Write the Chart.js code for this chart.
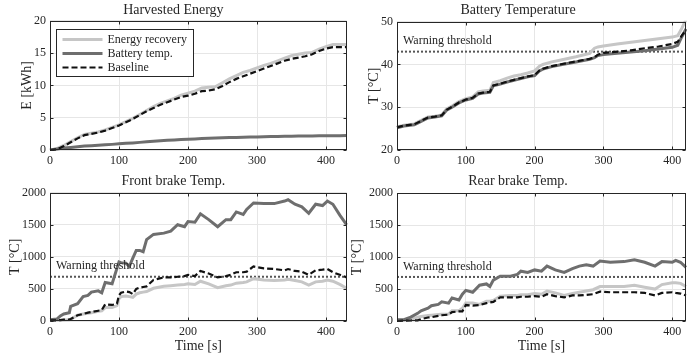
<!DOCTYPE html>
<html>
<head>
<meta charset="utf-8">
<script src="https://cdn.jsdelivr.net/npm/chart.js@4.4.1/dist/chart.umd.min.js"></script>
<style>
  body { margin: 0; background: #fff; }
  #wrap { position: relative; width: 687px; height: 356px; }
  canvas { position: absolute; }
</style>
</head>
<body>
<div id="wrap">
  <canvas id="energy" width="350" height="170" style="left:0;top:0"></canvas>
  <canvas id="battery" width="337" height="170" style="left:350px;top:0"></canvas>
  <canvas id="front" width="350" height="186" style="left:0;top:170px"></canvas>
  <canvas id="rear" width="337" height="186" style="left:350px;top:170px"></canvas>
</div>
<script>
// Harvested energy [kWh]
const energyTime = [0,10,20,30,40,50,60,70,80,90,100,110,120,130,140,150,160,170,180,190,200,210,220,230,240,250,260,270,280,290,300,310,320,330,340,350,360,370,380,390,400,410,420,430];
const energyRecovery = [0,0.2,0.7,1.3,1.9,2.4,2.6,2.8,3.1,3.5,3.9,4.4,4.9,5.5,6.1,6.7,7.2,7.6,8.0,8.5,8.8,9.1,9.6,9.7,9.8,10.4,11.0,11.5,12.0,12.3,12.7,13.1,13.4,13.8,14.2,14.6,14.8,15.0,15.1,15.6,16.0,16.3,16.3,16.3];
const energyBattery = [0,0.15,0.3,0.4,0.5,0.6,0.65,0.72,0.8,0.87,0.95,1.03,1.1,1.18,1.27,1.35,1.42,1.5,1.56,1.62,1.68,1.72,1.76,1.8,1.84,1.88,1.92,1.95,1.98,2.0,2.02,2.05,2.07,2.09,2.11,2.13,2.15,2.16,2.18,2.19,2.2,2.21,2.22,2.23];
const energyBaseline = [0,0.1,0.6,1.2,1.8,2.3,2.5,2.7,3.0,3.4,3.8,4.3,4.8,5.4,6.0,6.5,7.0,7.4,7.8,8.2,8.4,8.7,9.1,9.2,9.4,9.9,10.5,11.0,11.4,11.8,12.2,12.6,13.0,13.4,13.8,14.1,14.3,14.5,14.8,15.3,15.7,15.9,15.9,15.9];

// Battery temperature [°C]
const batteryTime = [0,10,25,30,45,55,65,72,80,90,100,110,118,125,135,140,150,160,170,180,190,200,207,212,225,240,260,280,287,292,300,320,340,360,380,400,408,414,420];
const batteryRecovery = [25.4,25.8,26.1,26.5,27.7,27.9,28.2,29.6,30.3,31.3,32.0,32.4,33.6,33.8,34.0,35.8,36.2,36.8,37.3,37.6,38.0,38.5,39.6,40.0,40.6,41.1,41.8,42.6,43.8,44.1,44.3,44.8,45.2,45.6,46.0,46.4,46.7,48.5,50.5];
const batteryBattery = [25.2,25.6,25.9,26.3,27.5,27.7,28.0,29.3,30.0,31.0,31.7,32.1,33.1,33.3,33.5,35.0,35.4,35.9,36.3,36.7,37.1,37.4,38.5,38.9,39.5,40.0,40.6,41.2,41.6,42.1,42.3,42.6,42.9,43.2,43.6,44.0,44.5,46.5,48.3];
const batteryBaseline = [25.3,25.7,26.0,26.4,27.6,27.8,28.1,29.4,30.1,31.1,31.8,32.2,33.2,33.4,33.6,35.1,35.5,36.0,36.4,36.8,37.2,37.5,38.6,39.0,39.6,40.1,40.7,41.3,41.7,42.3,42.7,43.0,43.3,43.8,44.2,44.8,45.3,46.8,48.0];
const batteryWarning = 43;

// Front brake temperature [°C]
const frontTime = [0,10,15,20,28,30,40,48,55,60,70,75,80,90,97,100,103,110,115,120,125,130,135,140,150,165,175,185,195,200,210,218,230,243,255,262,270,280,285,295,310,325,340,345,355,365,375,385,395,402,410,420,430];
const frontRecovery = [10,10,12,15,20,25,90,110,120,130,150,160,210,210,240,350,380,390,380,370,420,440,450,460,510,540,550,560,570,580,570,620,580,520,550,560,590,600,610,660,640,630,640,650,630,610,560,610,620,640,620,570,510];
const frontBattery = [20,30,80,110,130,230,270,380,400,450,470,440,600,580,820,920,910,900,850,980,1100,1100,1080,1270,1350,1370,1400,1500,1470,1550,1540,1670,1580,1470,1580,1580,1700,1660,1740,1840,1830,1830,1870,1890,1820,1780,1680,1820,1800,1870,1820,1650,1500];
const frontBaseline = [10,10,15,20,25,30,90,110,130,140,160,170,260,250,270,400,440,460,450,420,500,520,530,540,640,680,680,690,700,720,700,780,740,680,700,720,760,760,770,850,820,810,790,810,780,770,720,790,800,810,760,720,680];

// Rear brake temperature [°C]
const rearTime = [0,10,20,30,35,45,50,60,65,75,80,90,95,100,110,120,130,135,140,150,165,175,180,190,200,210,218,230,243,255,265,275,285,295,310,330,345,360,375,385,400,405,412,420];
const rearRecovery = [10,10,20,60,70,85,90,100,105,110,160,160,200,280,280,260,310,310,320,390,400,400,410,410,430,420,470,440,400,430,450,470,490,540,540,540,560,530,500,570,600,600,590,540];
const rearBattery = [20,20,60,120,160,200,240,260,300,280,360,330,420,480,450,560,580,540,640,700,700,730,780,760,800,780,860,800,760,820,860,880,860,940,920,930,960,920,860,930,920,950,920,840];
const rearBaseline = [0,5,8,10,30,55,60,80,90,100,140,150,150,250,240,250,280,290,300,370,370,370,380,380,390,380,420,390,370,400,400,410,420,460,450,450,450,440,400,440,450,440,430,400];
const brakeWarning = 690;

const timeTicks = [0, 100, 200, 300, 400];
const seriesLabels = ['Energy recovery', 'Battery temp.', 'Baseline'];
const warningLabel = 'Warning threshold';

const FONT = "'Liberation Serif', 'Times New Roman', serif";
const INK = '#262626';
const GRID = '#e6e6e6';
const LIGHT = '#c6c6c6';
const DARK = '#6e6e6e';

function pts(times, values) {
  return times.map((t, i) => ({ x: t, y: values[i] }));
}

function lines(times, rec, bat, base, warn, xMax) {
  const sets = [
    { data: pts(times, base), borderColor: '#111', borderWidth: 2.2, borderDash: [6, 3] },
    { data: pts(times, bat), borderColor: DARK, borderWidth: 3 },
    { data: pts(times, rec), borderColor: LIGHT, borderWidth: 3 }
  ];
  if (warn !== undefined) {
    sets.push({ data: [{ x: 0, y: warn }, { x: xMax, y: warn }], borderColor: '#555', borderWidth: 2, borderDash: [2, 2] });
  }
  sets.forEach(s => { s.pointRadius = 0; s.tension = 0; s.fill = false; s.clip = 1; });
  return sets;
}

// box round the axes, with MATLAB style inward ticks
const framePlugin = {
  id: 'frame',
  afterDatasetsDraw(chart) {
    const { ctx, chartArea: a, scales } = chart;
    const L = Math.round(a.left) + 0.5, R = Math.round(a.right) - 0.5;
    const T = Math.round(a.top) + 0.5, B = Math.round(a.bottom) - 0.5;
    ctx.save();
    ctx.strokeStyle = INK;
    ctx.lineWidth = 1;
    ctx.beginPath();
    scales.x.ticks.forEach(t => {
      const px = Math.round(scales.x.getPixelForValue(t.value)) + 0.5;
      ctx.moveTo(px, B); ctx.lineTo(px, B - 3);
      ctx.moveTo(px, T); ctx.lineTo(px, T + 3);
    });
    scales.y.ticks.forEach(t => {
      const py = Math.round(scales.y.getPixelForValue(t.value)) + 0.5;
      ctx.moveTo(L, py); ctx.lineTo(L + 3, py);
      ctx.moveTo(R, py); ctx.lineTo(R - 3, py);
    });
    ctx.stroke();
    ctx.strokeRect(L, T, R - L, B - T);
    ctx.restore();
  }
};

const warnPlugin = {
  id: 'warn',
  afterDatasetsDraw(chart, args, opts) {
    if (opts.value === undefined) return;
    const { ctx, chartArea: a, scales } = chart;
    ctx.save();
    ctx.font = '12px ' + FONT;
    ctx.fillStyle = INK;
    ctx.textBaseline = 'middle';
    ctx.fillText(warningLabel, a.left + 6, scales.y.getPixelForValue(opts.value) - 10.5);
    ctx.restore();
  }
};

const keyPlugin = {
  id: 'key',
  afterDatasetsDraw(chart, args, opts) {
    if (!opts.show) return;
    const { ctx, chartArea: a } = chart;
    const x = Math.round(a.left + 6) + 0.5, y = Math.round(a.top + 8) + 0.5;
    const styles = [
      { c: LIGHT, w: 3, d: [] },
      { c: DARK, w: 3, d: [] },
      { c: '#111', w: 2.2, d: [6, 3] }
    ];
    ctx.save();
    ctx.fillStyle = '#fff';
    ctx.fillRect(x, y, 137, 47);
    ctx.strokeStyle = INK;
    ctx.lineWidth = 1;
    ctx.strokeRect(x, y, 137, 47);
    ctx.font = '12px ' + FONT;
    ctx.textBaseline = 'middle';
    seriesLabels.forEach((label, i) => {
      const ry = y + 10 + 14 * i;
      ctx.strokeStyle = styles[i].c;
      ctx.lineWidth = styles[i].w;
      ctx.setLineDash(styles[i].d);
      ctx.beginPath();
      ctx.moveTo(x + 6, ry);
      ctx.lineTo(x + 46, ry);
      ctx.stroke();
      ctx.setLineDash([]);
      ctx.fillStyle = INK;
      ctx.fillText(label, x + 51, ry);
    });
    ctx.restore();
  }
};

function makeChart(id, o) {
  return new Chart(document.getElementById(id), {
    type: 'line',
    data: { datasets: o.datasets },
    options: {
      responsive: false,
      animation: false,
      layout: { padding: { left: 0, right: o.padRight, top: 0, bottom: 0 } },
      plugins: {
        legend: { display: false },
        tooltip: { enabled: false },
        title: {
          display: true, text: o.title, color: INK,
          font: { family: FONT, size: 14, weight: 'normal', lineHeight: 1 },
          padding: { top: o.titleTop, bottom: o.titleBottom }
        },
        warn: { value: o.warn },
        key: { show: !!o.key }
      },
      scales: {
        x: {
          type: 'linear', min: 0, max: o.xMax,
          ticks: { padding: 4, color: INK, font: { family: FONT, size: 12 }, callback: v => String(v) },
          grid: { color: GRID, drawTicks: false },
          border: { display: false },
          title: {
            display: !!o.xTitle, text: o.xTitle || '', color: INK,
            font: { family: FONT, size: 14, lineHeight: 1 },
            padding: { top: 0, bottom: 2.3 }
          },
          afterBuildTicks: s => { s.ticks = timeTicks.map(v => ({ value: v })); },
          afterFit: s => { s.height = o.xHeight; }
        },
        y: {
          min: o.yMin, max: o.yMax,
          ticks: { stepSize: o.yStep, padding: 4, color: INK, font: { family: FONT, size: 12 }, callback: v => String(v) },
          grid: { color: GRID, drawTicks: false },
          border: { display: false },
          title: {
            display: true, text: o.yTitle, color: INK,
            font: { family: FONT, size: 14, lineHeight: 1 },
            padding: { top: o.yTitlePad, bottom: 0 }
          },
          afterFit: s => { s.width = o.yWidth; }
        }
      }
    },
    plugins: [framePlugin, warnPlugin, keyPlugin]
  });
}

makeChart('energy', {
  title: 'Harvested Energy', titleTop: 3, titleBottom: 3.7,
  datasets: lines(energyTime, energyRecovery, energyBattery, energyBaseline),
  xMax: 430, xHeight: 20, padRight: 3.3,
  yMin: 0, yMax: 20, yStep: 5, yTitle: 'E [kWh]', yTitlePad: 20, yWidth: 50,
  key: true
});

makeChart('battery', {
  title: 'Battery Temperature', titleTop: 3, titleBottom: 4.7,
  datasets: lines(batteryTime, batteryRecovery, batteryBattery, batteryBaseline, batteryWarning, 420),
  xMax: 420, xHeight: 20, padRight: 1,
  yMin: 20, yMax: 50, yStep: 10, yTitle: 'T [°C]', yTitlePad: 17, yWidth: 47,
  warn: batteryWarning
});

makeChart('front', {
  title: 'Front brake Temp.', titleTop: 4.5, titleBottom: 4.2,
  datasets: lines(frontTime, frontRecovery, frontBattery, frontBaseline, brakeWarning, 430),
  xMax: 430, xHeight: 35, padRight: 3.3, xTitle: 'Time [s]',
  yMin: 0, yMax: 2000, yStep: 500, yTitle: 'T [°C]', yTitlePad: 8, yWidth: 50,
  warn: brakeWarning
});

makeChart('rear', {
  title: 'Rear brake Temp.', titleTop: 4.5, titleBottom: 4.8,
  datasets: lines(rearTime, rearRecovery, rearBattery, rearBaseline, brakeWarning, 420),
  xMax: 420, xHeight: 35, padRight: 1, xTitle: 'Time [s]',
  yMin: 0, yMax: 2000, yStep: 500, yTitle: 'T [°C]', yTitlePad: 0.3, yWidth: 47,
  warn: brakeWarning
});
</script>
</body>
</html>
